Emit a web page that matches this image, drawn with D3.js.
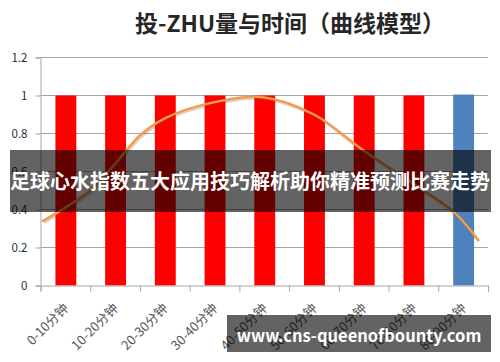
<html>
<script src="https://cdnjs.cloudflare.com/ajax/libs/d3/7.8.5/d3.min.js"></script>
<style>
    body { margin: 0; background: #fff; }
    text { font-family: "Noto Sans CJK SC", "Noto Sans", sans-serif; }
</style>
<body>
<svg width="500" height="362"></svg>
<script>
    // chart data
    var categories = ["0-10分钟", "10-20分钟", "20-30分钟", "30-40分钟", "40-50分钟",
        "50-60分钟", "60-70分钟", "70-80分钟", "80-90分钟"];
    var barValues = [1, 1, 1, 1, 1, 1, 1, 1, 1.005];
    var barColors = ["#ff0000", "#ff0000", "#ff0000", "#ff0000", "#ff0000",
        "#ff0000", "#ff0000", "#ff0000", "#4f81bd"];
    // curve: position along the category axis (0..9) and value
    var curvePos = [0.05, 0.5, 1.0, 1.5, 2.0, 2.5, 3.5, 4.5, 5.5, 6.5, 7.5, 8.3, 8.8];
    var curveValues = [0.34, 0.41, 0.50, 0.64, 0.79, 0.88, 0.965, 0.99, 0.90, 0.71, 0.535, 0.39, 0.24];
    var yTicks = [0, 0.2, 0.4, 0.6, 0.8, 1, 1.2];
    var title = "投-ZHU量与时间（曲线模型）";
    var banner = "足球心水指数五大应用技巧解析助你精准预测比赛走势";
    var watermark = "www.cns-queenofbounty.com";

    var svg = d3.select("svg");
    var plotLeft = 40.5, plotRight = 488, plotTop = 57.5, plotBottom = 285.5;

    var xs = d3.scaleBand().domain(categories).range([plotLeft, plotRight]);
    var xc = d3.scaleLinear().domain([0, 9]).range([plotLeft, plotRight]);
    var ys = d3.scaleLinear().domain([0, 1.2]).range([plotBottom, plotTop]);

    // title
    svg.append("text")
        .attr("x", 290).attr("y", 32)
        .attr("text-anchor", "middle")
        .attr("font-size", 23).attr("font-weight", "bold")
        .attr("fill", "#262626")
        .text(title);

    // y axis
    svg.append("g")
        .attr("transform", "translate(" + plotLeft + ",0)")
        .call(d3.axisLeft(ys).tickValues(yTicks).tickSize(5).tickPadding(8)
            .tickFormat(function (d) { return String(+d.toFixed(1)); }))
        .call(function (g) {
            g.select(".domain").attr("stroke", "#a6a6a6");
            g.selectAll(".tick line").attr("stroke", "#a6a6a6");
            g.selectAll(".tick text").attr("fill", "#1f2d3d").attr("font-size", 11.5)
                .attr("font-family", "'Liberation Sans', sans-serif");
        });

    // grid lines
    svg.append("g")
        .selectAll("line").data(yTicks.slice(1)).enter().append("line")
        .attr("x1", plotLeft).attr("x2", plotRight)
        .attr("y1", function (d) { return ys(d); })
        .attr("y2", function (d) { return ys(d); })
        .attr("stroke", "#a6a6a6");

    // bars
    var bw = xs.bandwidth() * 0.42;
    svg.append("g")
        .selectAll("rect").data(barValues).enter().append("rect")
        .attr("x", function (d, i) { return xs(categories[i]) + (xs.bandwidth() - bw) / 2 + 0.5; })
        .attr("y", function (d) { return ys(d); })
        .attr("width", bw)
        .attr("height", function (d) { return ys(0) - ys(d); })
        .attr("fill", function (d, i) { return barColors[i]; });

    // x axis
    svg.append("g")
        .attr("transform", "translate(0," + plotBottom + ")")
        .call(d3.axisBottom(xc).tickValues(d3.range(0, 10)).tickSize(6).tickFormat(""))
        .call(function (g) {
            g.select(".domain").attr("stroke", "#a6a6a6");
            g.selectAll(".tick line").attr("stroke", "#a6a6a6");
        });

    svg.append("g")
        .selectAll("text").data(categories).enter().append("text")
        .attr("transform", function (d) {
            return "translate(" + (xs(d) + xs.bandwidth() / 2 + 4) + ",309) rotate(-45)";
        })
        .attr("text-anchor", "end")
        .attr("font-size", 13)
        .attr("fill", "#595959")
        .text(function (d) { return d; });

    // smooth curve
    var line = d3.line()
        .x(function (d, i) { return xc(curvePos[i]); })
        .y(function (d) { return ys(d); })
        .curve(d3.curveCatmullRom);

    svg.append("path")
        .datum(curveValues)
        .attr("d", line)
        .attr("fill", "none")
        .attr("stroke", "#7a4a20").attr("stroke-opacity", 0.25)
        .attr("stroke-width", 3)
        .attr("transform", "translate(1,1.5)");

    svg.append("path")
        .datum(curveValues)
        .attr("d", line)
        .attr("fill", "none")
        .attr("stroke", "#f79a4c")
        .attr("stroke-width", 2.5)
        .attr("stroke-linecap", "round");

    // banner overlay
    svg.append("rect")
        .attr("x", 10).attr("y", 150).attr("width", 481).attr("height", 62)
        .attr("fill", "rgba(0,0,0,0.61)");
    svg.append("text")
        .attr("x", 250).attr("y", 189)
        .attr("text-anchor", "middle")
        .attr("font-size", 20).attr("font-weight", "bold")
        .attr("fill", "#fff")
        .text(banner);

    // watermark
    svg.append("rect")
        .attr("x", 227).attr("y", 315).attr("width", 264).attr("height", 37)
        .attr("fill", "rgba(0,0,0,0.61)");
    svg.append("text")
        .attr("x", 359).attr("y", 342)
        .attr("text-anchor", "middle")
        .attr("font-size", 16.5).attr("font-weight", "bold")
        .attr("fill", "#fff")
        .attr("font-family", "'Open Sans', sans-serif")
        .text(watermark);
</script>
</body>
</html>
